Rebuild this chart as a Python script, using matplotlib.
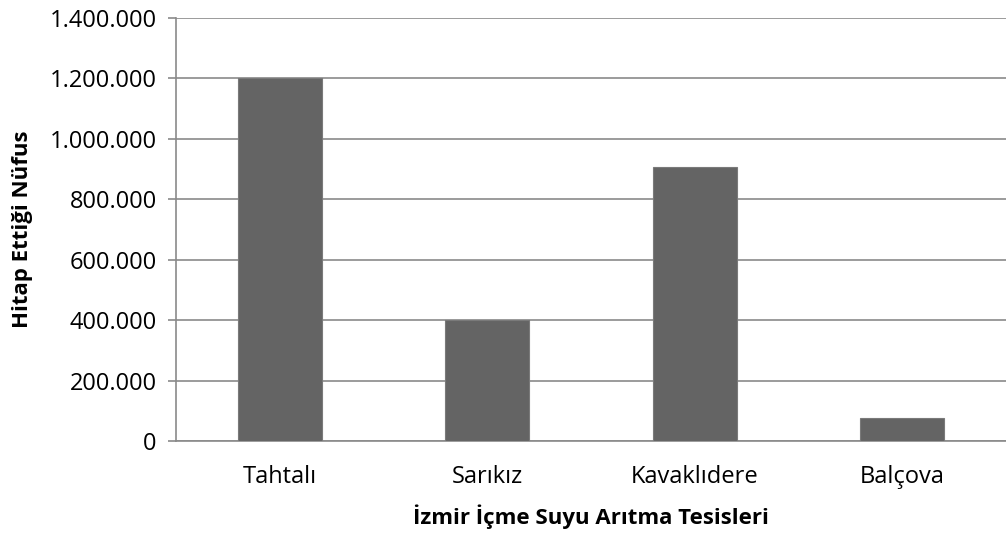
import matplotlib
matplotlib.use("Agg")
import matplotlib.pyplot as plt
from matplotlib.ticker import FuncFormatter

categories = ["Tahtalı", "Sarıkız", "Kavaklıdere", "Balçova"]
values = [1200000, 400000, 907000, 76000]
yticks = [0, 200000, 400000, 600000, 800000, 1000000, 1200000, 1400000]

plt.rcParams['font.family'] = ['Open Sans', 'DejaVu Sans']

fig = plt.figure(figsize=(10.06, 5.34), dpi=100)
ax = fig.add_axes([176/1006, 1-441/534, (1006-176)/1006, (441-18)/534])

x = list(range(len(categories)))
ax.bar(x, values, width=0.405, color='#646464', edgecolor='#7a7a7a', linewidth=0.8, zorder=3)
ax.set_xlim(-0.5, 3.5)
ax.set_ylim(0, 1400000)
ax.set_yticks(yticks)
ax.yaxis.set_major_formatter(FuncFormatter(lambda v, p: "0" if v == 0 else f"{int(v):,}".replace(",", ".")))
ax.grid(axis='y', color='#8a8a8a', linewidth=1.2, zorder=0)
ax.set_xticks(x)
ax.set_xticklabels(categories)
for s in ['top', 'right']:
    ax.spines[s].set_visible(False)
ax.spines['left'].set_color('#8a8a8a')
ax.spines['left'].set_linewidth(1.2)
ax.spines['bottom'].set_color('#8a8a8a')
ax.spines['bottom'].set_linewidth(1.2)
ax.tick_params(axis='y', length=5.8, color='#8a8a8a', width=1.2, labelsize=17, pad=8)
ax.tick_params(axis='x', length=0, labelsize=17, pad=17)
ax.set_xlabel("İzmir İçme Suyu Arıtma Tesisleri", fontsize=16, fontweight='bold')
ax.set_ylabel("Hitap Ettiği Nüfus", fontsize=16, fontweight='bold')
ax.xaxis.set_label_coords(0.5, -(517 - 441) / 423, transform=ax.transAxes)
ax.xaxis.label.set_va('center')
ax.yaxis.set_label_coords(-(176 - 23) / 830, 0.5, transform=ax.transAxes)
ax.yaxis.label.set_va('center')

fig.savefig("out.png", dpi=100)
